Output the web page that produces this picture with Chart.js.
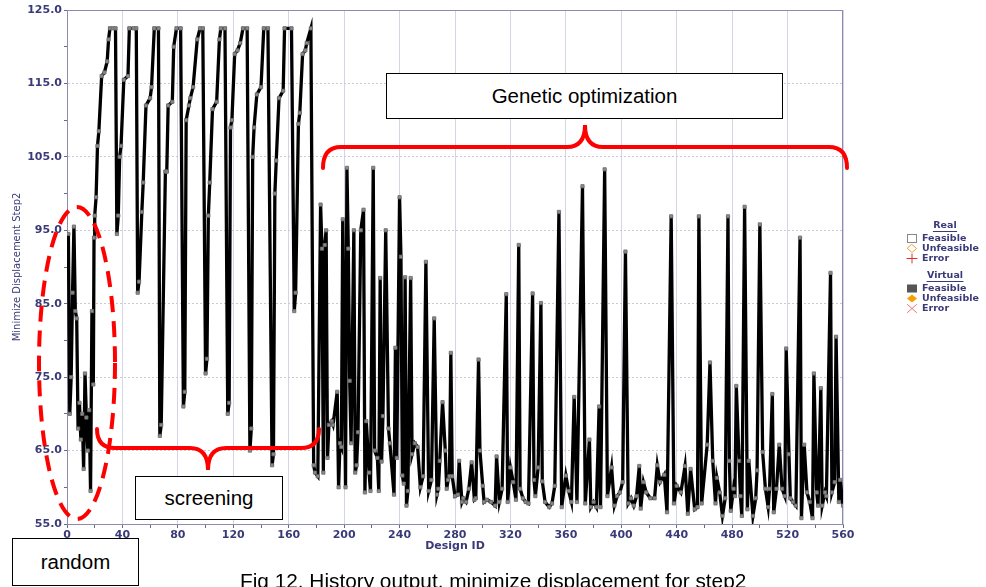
<!DOCTYPE html>
<html><head><meta charset="utf-8">
<script src="https://cdn.jsdelivr.net/npm/chart.js@4.4.1/dist/chart.umd.min.js"></script>
<style>
html,body{margin:0;padding:0;background:#fff;width:986px;height:587px;overflow:hidden;}
#wrap{position:relative;width:986px;height:587px;overflow:hidden;}
canvas{position:absolute;left:0;top:0;}
.box{position:absolute;background:#fff;border:1.5px solid #000;box-sizing:border-box;font-family:Arial,"Liberation Sans",sans-serif;font-size:20.5px;color:#000;display:flex;align-items:center;justify-content:center;}
#caption{position:absolute;left:240px;top:569px;font-family:Arial,"Liberation Sans",sans-serif;font-size:20.8px;white-space:nowrap;color:#000;}
</style></head>
<body><div id="wrap"><canvas id="c" width="986" height="587"></canvas>
<div class="box" style="left:386px;top:73px;width:397px;height:46px;">Genetic optimization</div>
<div class="box" style="left:135px;top:476px;width:148px;height:44px;">screening</div>
<div class="box" style="left:12px;top:538px;width:127px;height:48px;">random</div>
<div id="caption">Fig 12. History output, minimize displacement for step2</div>
</div>
<script>
// ---- data ----
const randomIds = [1,2,3,4,5,6,7,8,9,10,11,12,13,14,15,16,17,18,19];
const randomValues = [94.5,70,75,86.5,95.5,84,83,68,71.5,66.5,70,62.5,75.5,69.5,65,70.5,59.5,84,74];

const screeningIds = [19.5,20,21,22,23,25,27,29,30,31,33,35,36,37,38,39,41,44,45,48,50,51,52,54,55,57,60,61,63,66,67,68,71,72,73,76,77,79,82,84,85,86,88,89,91,94,96,98,100,101,102,103,105,108,110,111,114,116,117,118,119,121,123,125,127,130,132,133,134,135,137,140,142,145,148,149,150,151,153,156,157,162,164,165,167,168,170,172,173,176];
const screeningValues = [94,97,99.5,106.5,108.5,116,116.5,118,121,122.5,122.5,122.5,94.5,97,105,106.5,115.5,116,122.5,122.5,122.5,86.5,88,97.5,101.5,112,113,114.5,122.5,122.5,67,68.5,103,103,112,112.5,120,122.5,122.5,71,73,110,112,113,114.5,121,122.5,122.5,75.5,77.5,97,101.5,111.5,112.5,121,122.5,122.5,70,71.5,109,110,119,119.5,120.5,122.5,122.5,65,68,105,109,113.5,114.5,122.5,122.5,63,64.5,100,104.5,113,114,122.5,122.5,84,86.5,109.5,111,119,119.5,120.5,122.5];

const geneticIds = [178,179,181,183,184,185,186,187,188,189,191,192,195,196,197,198,199,201,202,203,204,205,207,208,209,210,212,214,215,216,218,219,221,222,224,225,226,227,228,230,232,233,236,237,238,240,241,242,243,244,245,246,248,249,251,253,255,257,259,261,263,265,267,268,269,271,273,274,275,276,277,278,280,282,283,285,286,288,290,292,294,295,297,298,300,301,303,306,309,310,312,314,317,318,320,322,324,326,327,329,331,333,336,337,338,340,342,343,345,348,350,352,355,357,360,362,364,366,368,372,374,377,378,380,382,384,385,388,390,393,395,397,399,401,403,405,407,409,411,413,414,416,418,421,424,426,428,431,433,436,438,440,443,446,448,450,453,455,456,458,462,464,466,468,469,471,473,475,477,478,479,481,482,483,485,486,487,489,491,492,495,497,498,500,502,504,506,507,509,510,512,514,516,518,519,521,522,524,526,529,530,532,534,536,538,539,541,542,544,545,547,548,551,552,554,555,557,558,560];
const geneticValues = [63,62,61.5,98.5,92.5,62,93,95,64,68.5,69,68.5,73,60,66,65.5,96.5,60,103.5,92.5,74.5,66,95,62,63,67.5,95,97.8,59.3,69,62,59.5,103.5,65,64,59.5,88.5,63.5,69.7,95,68,66,59,79,64,99.5,91.4,61.6,60.5,88.6,57.5,59.5,88.5,64.5,66,65.5,60,61.5,90.7,59.5,61,83,59,59.8,63.6,71.6,65,59.8,61,61.5,78.3,61.5,58.8,59,63.6,58,58.5,58,59.8,63.4,58.3,58.5,77.4,65,60.2,58,58.3,58,57.5,64.2,58,59.8,86.3,58,62.7,60.7,58.3,93,59.8,58.5,58,57.8,86.4,61,58.8,62.7,85.1,60.8,58,57.3,57.8,60.2,97.5,57.3,61.6,59.5,58,72.3,58,101,57.8,66.5,57.3,58,57.3,71,57.3,103.3,58.8,62.7,57.5,58.8,59.3,60.7,92.1,57.8,58.5,57.5,58.8,62.9,57.1,60.7,59.3,58.5,58.5,63,60.7,61.7,56.6,96.9,57.8,60.2,59.3,62.9,56.4,62.5,57,57.3,96.9,57.8,65.8,77,63.6,57.8,61.3,59.3,56.1,58.5,96.9,63.6,56.8,59.8,58.8,73.8,63.6,58.8,56.1,98.2,57,63.6,56.1,58.5,62.3,95.8,64.8,59.8,57.3,59.8,72.7,56.6,59.8,65.8,59.8,58.8,78.9,64.5,58.5,58,57.5,94,55.8,65.8,59.3,58,55.8,75.5,59.3,57.5,73.5,57.5,59.3,58.8,89.2,59.3,60.7,80.5,58,61,57.5];

const xTickLabels = [0,40,80,120,160,200,240,280,320,360,400,440,480,520,560];
const yTickLabels = [55,65,75,85,95,105,115,125];

const allIds = randomIds.concat(screeningIds, geneticIds);
const allValues = randomValues.concat(screeningValues, geneticValues);
const points = allIds.map((x, i) => ({x: x, y: allValues[i]}));

const NAVY = '#3a3a78';

function brace(ctx, x1, x2, yEnd, yLine, yTip) {
  const xm = (x1 + x2) / 2, r = 18;
  ctx.beginPath();
  ctx.moveTo(x1, yEnd);
  ctx.quadraticCurveTo(x1, yLine, x1 + r, yLine);
  ctx.lineTo(xm - r, yLine);
  ctx.quadraticCurveTo(xm, yLine, xm, yTip);
  ctx.quadraticCurveTo(xm, yLine, xm + r, yLine);
  ctx.lineTo(x2 - r, yLine);
  ctx.quadraticCurveTo(x2, yLine, x2, yEnd);
  ctx.stroke();
}

const annot = {
  id: 'annot',
  beforeDatasetsDraw(chart) {
    const {ctx, chartArea: a} = chart;
    ctx.save();
    ctx.strokeStyle = '#8c8cae';
    ctx.lineWidth = 1;
    ctx.strokeRect(a.left + 0.5, a.top + 0.5, a.right - a.left - 1, a.bottom - a.top);
    ctx.restore();
  },
  afterDraw(chart) {
    const ctx = chart.ctx;
    ctx.save();
    // red annotations
    ctx.strokeStyle = '#ff0000';
    ctx.lineWidth = 4;
    ctx.lineCap = 'butt';
    ctx.setLineDash([16, 9]);
    ctx.beginPath();
    ctx.ellipse(77, 363, 38, 156, 0, 0, Math.PI * 2);
    ctx.stroke();
    ctx.setLineDash([]);
    ctx.lineCap = 'round';
    brace(ctx, 97, 319, 429, 448, 470);
    brace(ctx, 323, 847, 168, 147, 125);

    // legend
    ctx.fillStyle = NAVY;
    ctx.strokeStyle = NAVY;
    ctx.font = 'bold 9.5px "DejaVu Sans"';
    ctx.textBaseline = 'middle';
    ctx.textAlign = 'center';
    ctx.fillText('Real', 945, 225.5);
    ctx.fillText('Virtual', 945, 275.5);
    ctx.lineWidth = 1;
    let w = ctx.measureText('Real').width;
    ctx.beginPath(); ctx.moveTo(945 - w/2, 231.5); ctx.lineTo(945 + w/2, 231.5); ctx.stroke();
    w = ctx.measureText('Virtual').width;
    ctx.beginPath(); ctx.moveTo(945 - w/2, 281.5); ctx.lineTo(945 + w/2, 281.5); ctx.stroke();
    ctx.textAlign = 'left';
    const rows = [['Feasible', 238.5], ['Unfeasible', 248.5], ['Error', 258.5], ['Feasible', 288.5], ['Unfeasible', 298.5], ['Error', 308.5]];
    rows.forEach(r => ctx.fillText(r[0], 922, r[1]));
    const cx = 912;
    ctx.fillStyle = '#fff'; ctx.strokeStyle = '#888';
    ctx.fillRect(907.5, 234.5, 9, 8); ctx.strokeRect(907.5, 234.5, 9, 8);
    ctx.strokeStyle = '#f0a040';
    ctx.beginPath(); ctx.moveTo(cx, 244.5); ctx.lineTo(cx + 4.5, 248.5); ctx.lineTo(cx, 252.5); ctx.lineTo(cx - 4.5, 248.5); ctx.closePath(); ctx.stroke();
    ctx.strokeStyle = '#e03030';
    ctx.beginPath(); ctx.moveTo(cx - 5, 258.5); ctx.lineTo(cx + 5, 258.5); ctx.moveTo(cx, 254); ctx.lineTo(cx, 263); ctx.stroke();
    ctx.fillStyle = '#555';
    ctx.fillRect(907, 284.5, 10, 8);
    ctx.fillStyle = '#f5a000';
    ctx.beginPath(); ctx.moveTo(cx, 294.5); ctx.lineTo(cx + 5, 298.5); ctx.lineTo(cx, 302.5); ctx.lineTo(cx - 5, 298.5); ctx.closePath(); ctx.fill();
    ctx.strokeStyle = '#f07070';
    ctx.beginPath(); ctx.moveTo(cx - 4.5, 304.5); ctx.lineTo(cx + 4.5, 312.5); ctx.moveTo(cx + 4.5, 304.5); ctx.lineTo(cx - 4.5, 312.5); ctx.stroke();
    ctx.restore();
  }
};

new Chart(document.getElementById('c'), {
  type: 'scatter',
  data: {
    datasets: [{
      data: points,
      showLine: true,
      borderColor: '#000',
      borderWidth: 3.3,
      tension: 0,
      pointStyle: 'rect',
      pointRadius: 2.3,
      pointBackgroundColor: '#8a8a8a',
      pointBorderColor: '#6a6a6a',
      pointBorderWidth: 0.8
    }]
  },
  options: {
    responsive: false,
    animation: false,
    devicePixelRatio: 1,
    layout: {padding: {left: 0, right: 143, top: 10, bottom: 34}},
    plugins: {legend: {display: false}, tooltip: {enabled: false}},
    scales: {
      x: {
        type: 'linear', min: 0, max: 560,
        afterFit(s) { s.height = 29; },
        ticks: {
          stepSize: 20, autoSkip: false, maxRotation: 0, padding: 1,
          font: {family: 'DejaVu Sans', size: 11, weight: 'bold'}, color: NAVY,
          callback: v => xTickLabels.includes(v) ? String(v) : ''
        },
        grid: {
          color: c => (c.tick && xTickLabels.includes(c.tick.value)) ? '#d4d4e4' : 'rgba(0,0,0,0)',
          tickColor: '#6a6a90', tickLength: 4
        },
        border: {color: '#8c8cae'},
        title: {display: true, text: 'Design ID', font: {family: 'DejaVu Sans', size: 11, weight: 'bold'}, color: NAVY, padding: 0}
      },
      y: {
        min: 55, max: 125,
        afterFit(s) { s.width = 67; },
        ticks: {
          stepSize: 5, autoSkip: false, padding: 2,
          font: {family: 'DejaVu Sans', size: 11, weight: 'bold'}, color: NAVY,
          callback: v => yTickLabels.includes(v) ? v.toFixed(1) : ''
        },
        grid: {
          color: c => (c.tick && yTickLabels.includes(c.tick.value)) ? '#c8c8d6' : 'rgba(0,0,0,0)',
          tickColor: '#6a6a90', tickLength: 3
        },
        border: {color: '#8c8cae', dash: [2, 2]},
        title: {display: true, text: 'Minimize Displacement Step2', font: {family: 'DejaVu Sans', size: 10}, color: NAVY, padding: {top: 11, bottom: 0}}
      }
    }
  },
  plugins: [annot]
});
</script>
</body></html>
